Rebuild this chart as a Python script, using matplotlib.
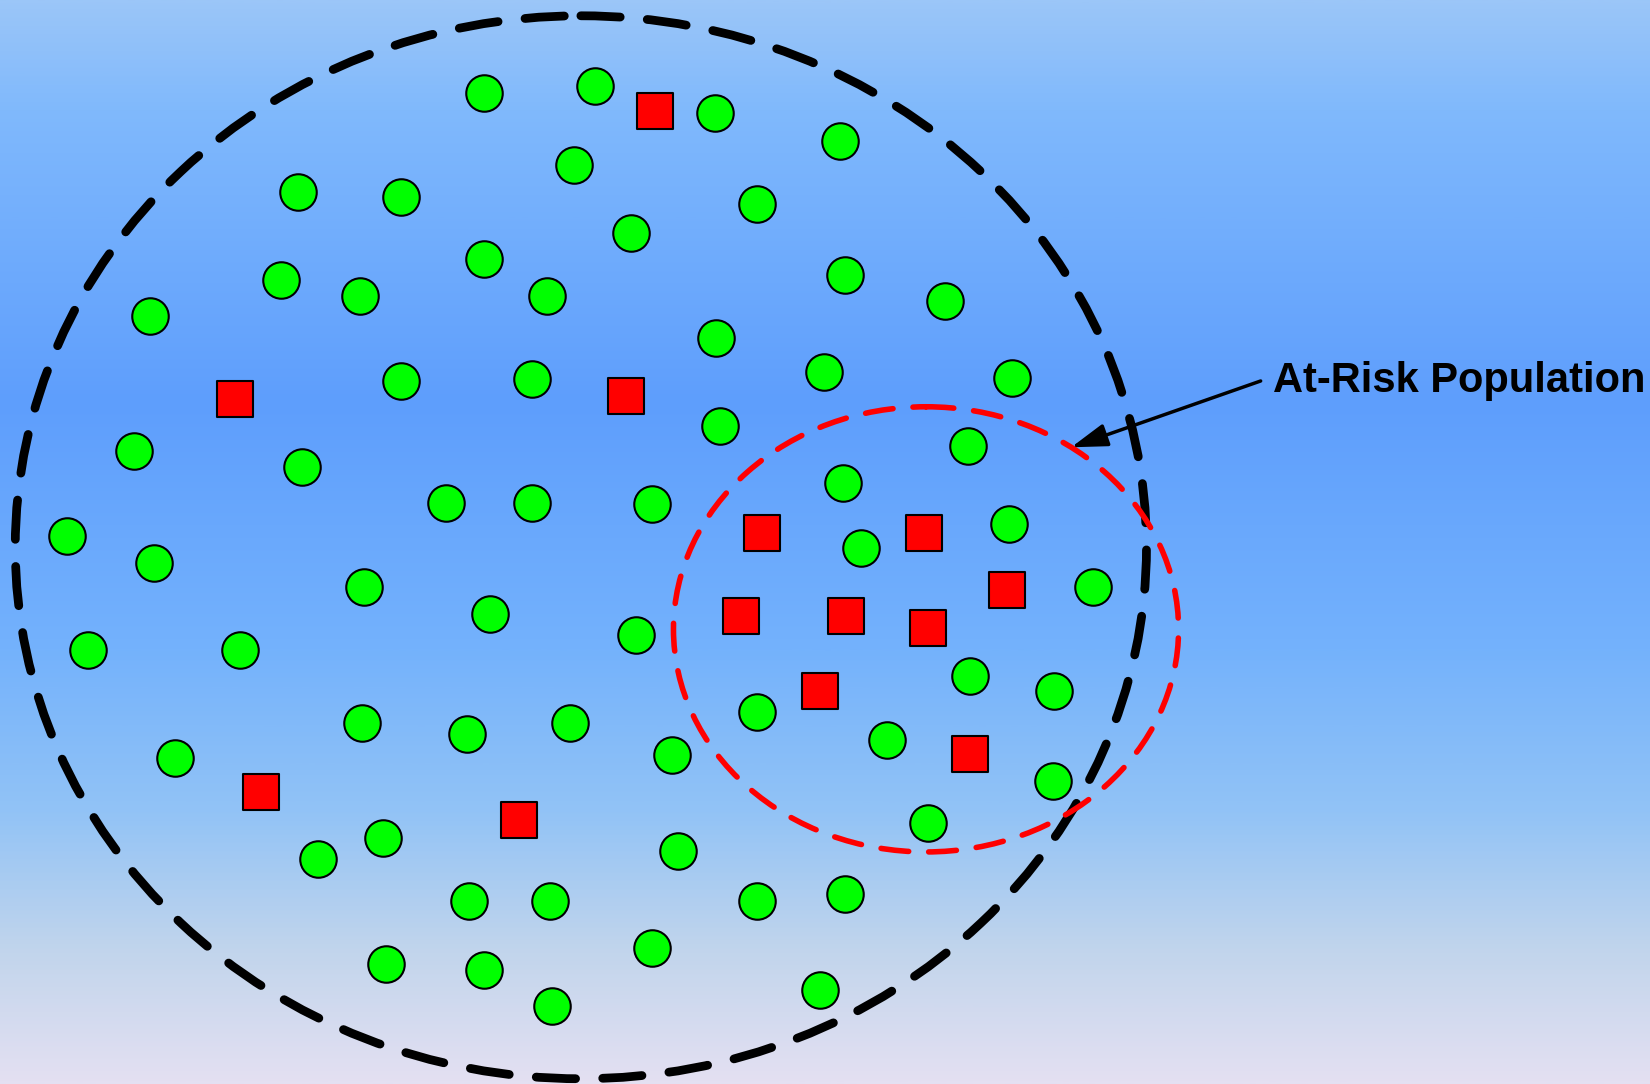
import numpy as np
import matplotlib.pyplot as plt
from matplotlib.patches import Ellipse
from matplotlib.colors import LinearSegmentedColormap

# population members (image units, y grows downward)
healthy_x = [460, 565, 679, 798, 283, 381, 545, 719, 600, 267, 342, 460, 520, 803, 898,
             143, 680, 381, 506, 783, 962, 684, 127, 287, 920, 424, 506, 620, 801, 64,
             146, 818, 959, 346, 1039, 466, 604, 84, 228, 922, 1002, 344, 444, 542, 719,
             843, 166, 639, 1001, 882, 364, 302, 644, 446, 523, 719, 803, 367, 460, 620,
             525, 779]
healthy_y = [88, 82, 107, 134, 182, 187, 157, 194, 221, 266, 281, 246, 281, 261, 286,
             300, 321, 362, 360, 353, 359, 405, 429, 444, 424, 478, 478, 479, 459, 509,
             535, 521, 498, 558, 558, 583, 603, 618, 618, 642, 657, 687, 697, 687, 677,
             703, 720, 717, 742, 782, 796, 816, 809, 856, 856, 856, 849, 916, 922, 901,
             956, 941]

case_x = [622, 223, 595, 724, 878, 957, 704, 804, 882, 779, 922, 248, 493]
case_y = [105, 379, 376, 506, 506, 561, 585, 585, 597, 657, 716, 753, 779]

W, H = 1568, 1030

fig = plt.figure(figsize=(16.5, 10.84), dpi=100)
ax = fig.add_axes([0, 0, 1, 1])
ax.set_xlim(0, W)
ax.set_ylim(H, 0)
ax.axis('off')

# vertical background gradient
bg = LinearSegmentedColormap.from_list('bg', [
    (0.0, '#9bc6f8'), (0.1, '#80b9fc'), (0.37, '#5e9efd'), (0.6, '#74b2fc'),
    (0.75, '#92c3f6'), (0.88, '#c2d5ec'), (1.0, '#e4e0f2')])
grad = np.linspace(0, 1, 512).reshape(-1, 1)
ax.imshow(grad, cmap=bg, extent=[0, W, H, 0], aspect='auto', zorder=0)

# whole population boundary
ax.add_patch(Ellipse((552, 520), 1075, 1010, fill=False, ec='black', lw=6.3,
                     ls=(0, (4.5, 3.1)), capstyle='round', zorder=2))
# at-risk boundary
ax.add_patch(Ellipse((880, 598), 480, 423, fill=False, ec='#ff0000', lw=4,
                     ls=(0, (5, 3.6)), capstyle='round', zorder=2))

ax.scatter(healthy_x, healthy_y, s=690, c='#00ff00', edgecolors='black',
           linewidths=1.5, zorder=3)
ax.scatter(case_x, case_y, s=640, marker='s', c='#ff0000', edgecolors='black',
           linewidths=1.5, zorder=3)

ax.annotate('', xy=(1018, 425), xytext=(1198, 362),
            arrowprops=dict(arrowstyle='-|>,head_length=1.1,head_width=0.35',
                            color='black', lw=2.5, shrinkA=0, shrinkB=0,
                            mutation_scale=20),
            zorder=4)
ax.text(1210, 362, 'At-Risk Population', fontsize=30, fontweight='bold',
        family='Liberation Sans', va='center', ha='left', zorder=4)

fig.savefig('out.png', dpi=100)
